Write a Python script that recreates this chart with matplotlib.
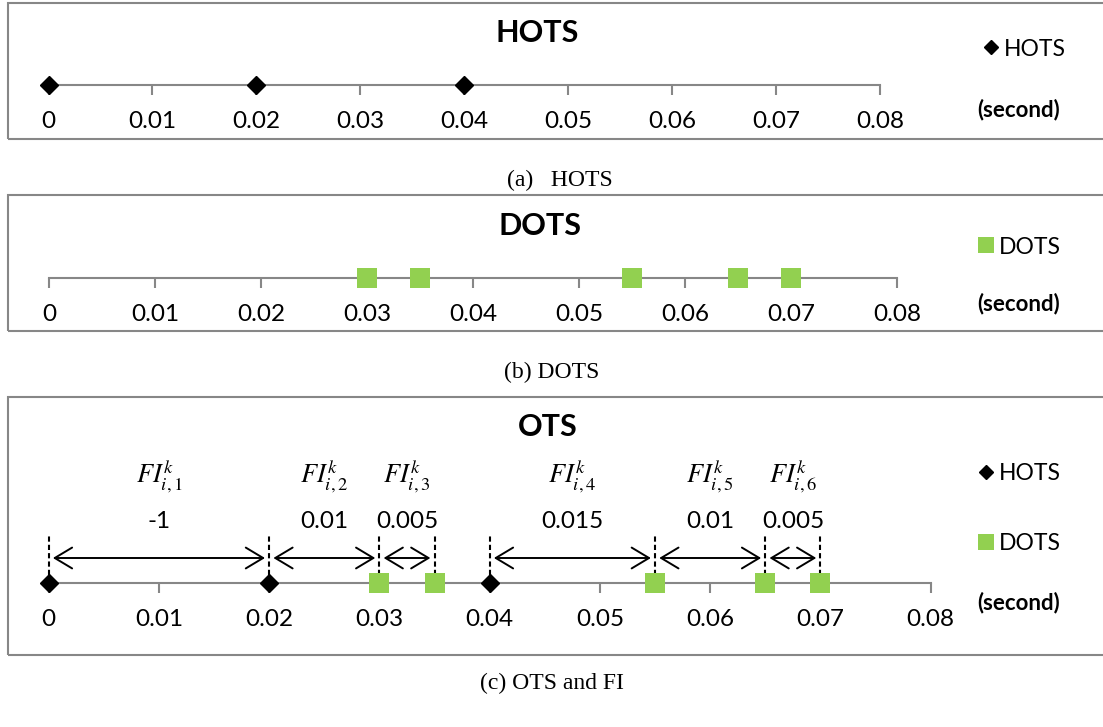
import matplotlib
matplotlib.use("Agg")
import matplotlib.pyplot as plt
from matplotlib.lines import Line2D
from matplotlib.patches import Rectangle

plt.rcParams["font.family"] = ["Lato", "DejaVu Sans"]
plt.rcParams["mathtext.fontset"] = "stix"

# data
hots_t = [0, 0.02, 0.04]
dots_t = [0.03, 0.035, 0.055, 0.065, 0.07]
ticks = [0, 0.01, 0.02, 0.03, 0.04, 0.05, 0.06, 0.07, 0.08]
tick_labels = ["0", "0.01", "0.02", "0.03", "0.04", "0.05", "0.06", "0.07", "0.08"]
fi_start = [0, 0.02, 0.03, 0.04, 0.055, 0.065]
fi_end = [0.02, 0.03, 0.035, 0.055, 0.065, 0.07]
fi_value = ["-1", "0.01", "0.005", "0.015", "0.01", "0.005"]
fi_name = [r"$FI_{i,%d}^{k}$" % n for n in range(1, 7)]

W, H = 1103, 727
GRAY = "#878787"
GREEN = "#92D050"

fig = plt.figure(figsize=(W / 100, H / 100), dpi=100)


def fx(px):
    return px / W


def fy(py):
    return 1 - py / H


def timeline(box_top, box_bottom, axis_y, x0, x8):
    fig.add_artist(Rectangle((fx(8), fy(box_bottom)), 1.2, (box_bottom - box_top) / H,
                             transform=fig.transFigure, fill=False, ec=GRAY, lw=1.5))
    ax = fig.add_axes([fx(x0), fy(axis_y), (x8 - x0) / W, (axis_y - box_top) / H])
    ax.set_xlim(0, 0.08)
    ax.set_ylim(0, axis_y - box_top)
    ax.patch.set_visible(False)
    for s in ["top", "left", "right"]:
        ax.spines[s].set_visible(False)
    ax.spines["bottom"].set_color(GRAY)
    ax.spines["bottom"].set_linewidth(1.5)
    ax.set_yticks([])
    ax.set_xticks(ticks, tick_labels)
    ax.tick_params(axis="x", direction="out", length=7, width=1.5, color=GRAY,
                   labelsize=17.5, pad=12)
    return ax


def legend(ax, handles, x, y, spacing=2.1):
    ax.legend(handles=handles, loc="center left", bbox_to_anchor=(fx(x), fy(y)),
              bbox_transform=fig.transFigure, frameon=False, fontsize=16.5,
              borderpad=0, borderaxespad=0, handlelength=0.75, handletextpad=0.2,
              labelspacing=spacing)


h_hots = Line2D([], [], marker="D", color="black", ls="", ms=7.6, label="HOTS")
h_dots = Line2D([], [], marker="s", color=GREEN, ls="", ms=12, mew=0, label="DOTS")

# (a) HOTS
ax1 = timeline(3, 139, 85, 48.5, 880)
ax1.plot(hots_t, [0] * len(hots_t), "D", color="black", ms=9.2, clip_on=False, zorder=5)
fig.text(fx(537), fy(33), "HOTS", ha="center", va="center", fontsize=22, fontweight="bold")
legend(ax1, [h_hots], 982, 49)
fig.text(fx(1060), fy(110), "(second)", ha="right", va="center", fontsize=16, fontweight="bold")
fig.text(fx(560), fy(180), "(a)   HOTS", ha="center", va="center", fontsize=17,
         family="Liberation Serif")

# (b) DOTS
ax2 = timeline(195, 331, 278, 49, 897)
ax2.plot(dots_t, [0] * len(dots_t), "s", color=GREEN, ms=13.7, mew=0, clip_on=False, zorder=5)
fig.text(fx(540), fy(226), "DOTS", ha="center", va="center", fontsize=22, fontweight="bold")
legend(ax2, [h_dots], 977, 247)
fig.text(fx(1060), fy(304), "(second)", ha="right", va="center", fontsize=16, fontweight="bold")
fig.text(fx(552), fy(372), "(b) DOTS", ha="center", va="center", fontsize=17,
         family="Liberation Serif")

# (c) OTS and FI
ax3 = timeline(397, 655, 583, 48.7, 930.7)
ax3.plot(hots_t, [0] * len(hots_t), "D", color="black", ms=9.2, clip_on=False, zorder=5)
ax3.plot(dots_t, [0] * len(dots_t), "s", color=GREEN, ms=13.7, mew=0, clip_on=False, zorder=5)
events = sorted(hots_t + dots_t)
ax3.vlines(events, 8, 47, colors="black", linestyles=(0, (2.5, 1.5)), lw=1.5, zorder=4,
           clip_on=False)
for s, e, name, val in zip(fi_start, fi_end, fi_name, fi_value):
    ax3.annotate("", xy=(e, 25), xytext=(s, 25),
                 arrowprops=dict(arrowstyle="<->,head_length=1.25,head_width=0.75",
                                 lw=1.4, color="black", shrinkA=3, shrinkB=3,
                                 mutation_scale=10))
    mid = (s + e) / 2
    ax3.text(mid, 106, name, ha="center", va="center", fontsize=19)
    ax3.text(mid, 61, val, ha="center", va="center", fontsize=17.5)
fig.text(fx(548), fy(427), "OTS", ha="center", va="center", fontsize=22, fontweight="bold")
legend(ax3, [h_hots, h_dots], 977, 508.5)
fig.text(fx(1060), fy(603), "(second)", ha="right", va="center", fontsize=16, fontweight="bold")
fig.text(fx(552), fy(683), "(c) OTS and FI", ha="center", va="center", fontsize=17,
         family="Liberation Serif")

fig.savefig("out.png", dpi=100)
